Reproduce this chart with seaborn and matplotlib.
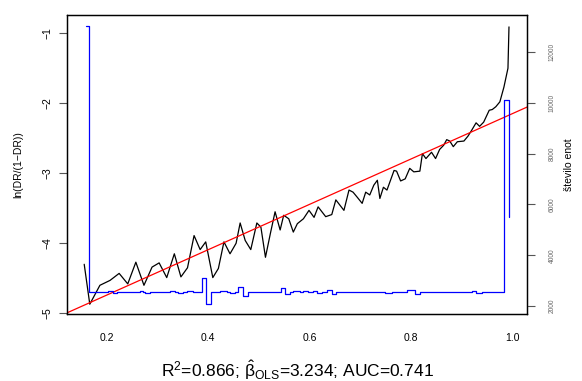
import matplotlib
matplotlib.use("Agg")
import matplotlib.pyplot as plt
import seaborn as sns
import numpy as np

# log-odds of default rate per score bin
score = [0.155, 0.166, 0.186, 0.206, 0.224, 0.241, 0.257, 0.273, 0.289, 0.303,
         0.318, 0.333, 0.346, 0.359, 0.372, 0.384, 0.395, 0.409, 0.420, 0.431,
         0.443, 0.455, 0.463, 0.473, 0.484, 0.496, 0.504, 0.513, 0.523, 0.532,
         0.542, 0.549, 0.559, 0.568, 0.576, 0.588, 0.599, 0.609, 0.617, 0.632,
         0.644, 0.652, 0.668, 0.678, 0.686, 0.694, 0.704, 0.711, 0.719, 0.727,
         0.734, 0.739, 0.746, 0.753, 0.767, 0.772, 0.780, 0.789, 0.798, 0.806,
         0.818, 0.823, 0.830, 0.841, 0.849, 0.857, 0.865, 0.871, 0.877, 0.884,
         0.892, 0.905, 0.913, 0.920, 0.929, 0.936, 0.944, 0.955, 0.961, 0.968,
         0.976, 0.984, 0.992, 0.994]
logit = [-4.30, -4.87, -4.60, -4.53, -4.43, -4.58, -4.27, -4.60, -4.34, -4.28,
         -4.49, -4.15, -4.48, -4.35, -3.89, -4.09, -3.98, -4.49, -4.36, -3.98,
         -4.15, -4.00, -3.71, -3.96, -4.09, -3.71, -3.77, -4.20, -3.85, -3.55,
         -3.81, -3.60, -3.65, -3.84, -3.72, -3.65, -3.53, -3.63, -3.48, -3.62,
         -3.59, -3.38, -3.53, -3.24, -3.27, -3.34, -3.43, -3.27, -3.31, -3.17,
         -3.10, -3.36, -3.20, -3.24, -2.96, -2.97, -3.11, -3.08, -2.93, -2.98,
         -2.97, -2.72, -2.79, -2.70, -2.79, -2.66, -2.60, -2.52, -2.54, -2.62,
         -2.55, -2.54, -2.47, -2.39, -2.28, -2.33, -2.27, -2.10, -2.09, -2.05,
         -1.98, -1.77, -1.50, -0.91]

# number of units per score bin (step function)
bin_start = [0.158, 0.165, 0.2026, 0.2112, 0.2204, 0.2652, 0.2717, 0.2750, 0.2849,
             0.3244, 0.3343, 0.3408, 0.3507, 0.3573, 0.3704, 0.3869, 0.3948,
             0.4047, 0.4231, 0.4363, 0.4428, 0.4527, 0.4593, 0.4679, 0.4790,
             0.5429, 0.5514, 0.5613, 0.5679, 0.5811, 0.5876, 0.5975, 0.6061,
             0.6140, 0.6239, 0.6338, 0.6436, 0.6521, 0.7489, 0.7621, 0.7917,
             0.8081, 0.8180, 0.8837, 0.8969, 0.9200, 0.9285, 0.9398, 0.9844,
             0.9943]
bin_count = [13020, 2560, 2600, 2530, 2560, 2610, 2560, 2520, 2560,
             2590, 2560, 2530, 2560, 2590, 2560, 3090, 2080,
             2560, 2590, 2560, 2530, 2560, 2740, 2390, 2560,
             2710, 2470, 2560, 2590, 2560, 2600, 2540, 2600,
             2530, 2560, 2630, 2490, 2560, 2530, 2560, 2620,
             2460, 2560, 2540, 2560, 2600, 2520, 2560, 10110,
             5490]

# OLS fit of log-odds on score
r2 = 0.866
beta_ols = 3.234
intercept = -5.385
auc = 0.741

x_ticks = [0.2, 0.4, 0.6, 0.8, 1.0]
y_ticks = [-5, -4, -3, -2, -1]
n_ticks = [2000, 4000, 6000, 8000, 10000, 12000]

sns.set_theme(style="white")
plt.rcParams["font.family"] = ["Liberation Sans", "DejaVu Sans"]
plt.rcParams["mathtext.fontset"] = "custom"
plt.rcParams["mathtext.rm"] = "Liberation Sans"
plt.rcParams["mathtext.it"] = "Liberation Sans:italic"
plt.rcParams["text.color"] = "black"
plt.rcParams["axes.labelcolor"] = "black"

fig = plt.figure(figsize=(5.82, 3.81), dpi=100)
ax = fig.add_axes([67 / 582, 1 - 314 / 381, 460 / 582, 299 / 381])

sns.lineplot(x=score, y=logit, ax=ax, color="black", lw=0.9,
             estimator=None, sort=False)
ax.axline((0, intercept), slope=beta_ols, color="red", lw=0.9)

ax.set_xlim(0.121, 1.0296)
ax.set_ylim(-5.01, -0.74)
ax.set_xticks(x_ticks)
ax.set_xticklabels([f"{v:.1f}" for v in x_ticks])
ax.set_yticks(y_ticks)
ax.set_yticklabels([str(v).replace("-", "\u2212") for v in y_ticks],
                   rotation=90, va="center")
ax.tick_params(axis="both", direction="out", length=5.5, width=0.8,
               labelsize=7.5, colors="#555555", labelcolor="black", pad=5)
ax.tick_params(axis="x", pad=8)
ax.set_ylabel("ln(DR/(1\u2212DR))", fontsize=7.5, labelpad=14)
ax.set_xlabel(f"R$^2$={r2:.3f}; " + r"$\hat{\mathrm{\beta}}_{\mathrm{OLS}}$" +
              f"={beta_ols:.3f}; AUC={auc:.3f}",
              fontsize=12.5, labelpad=11)
for s in ax.spines.values():
    s.set_color("black")
    s.set_linewidth(0.9)

ax2 = ax.twinx()
sns.lineplot(x=bin_start, y=bin_count, ax=ax2, color="blue", lw=0.9,
             estimator=None, drawstyle="steps-post")
ax2.set_ylim(1685, 13460)
ax2.set_yticks(n_ticks)
ax2.set_yticklabels([str(v) for v in n_ticks], rotation=90, va="center")
ax2.tick_params(axis="y", direction="out", length=5.5, width=0.8,
                labelsize=4.8, colors="#555555", labelcolor="#666666", pad=10)
ax2.set_ylabel("število enot", fontsize=7.5, labelpad=6)
for s in ax2.spines.values():
    s.set_color("black")
    s.set_linewidth(0.9)

fig.savefig("out.png", dpi=100, facecolor="white")
